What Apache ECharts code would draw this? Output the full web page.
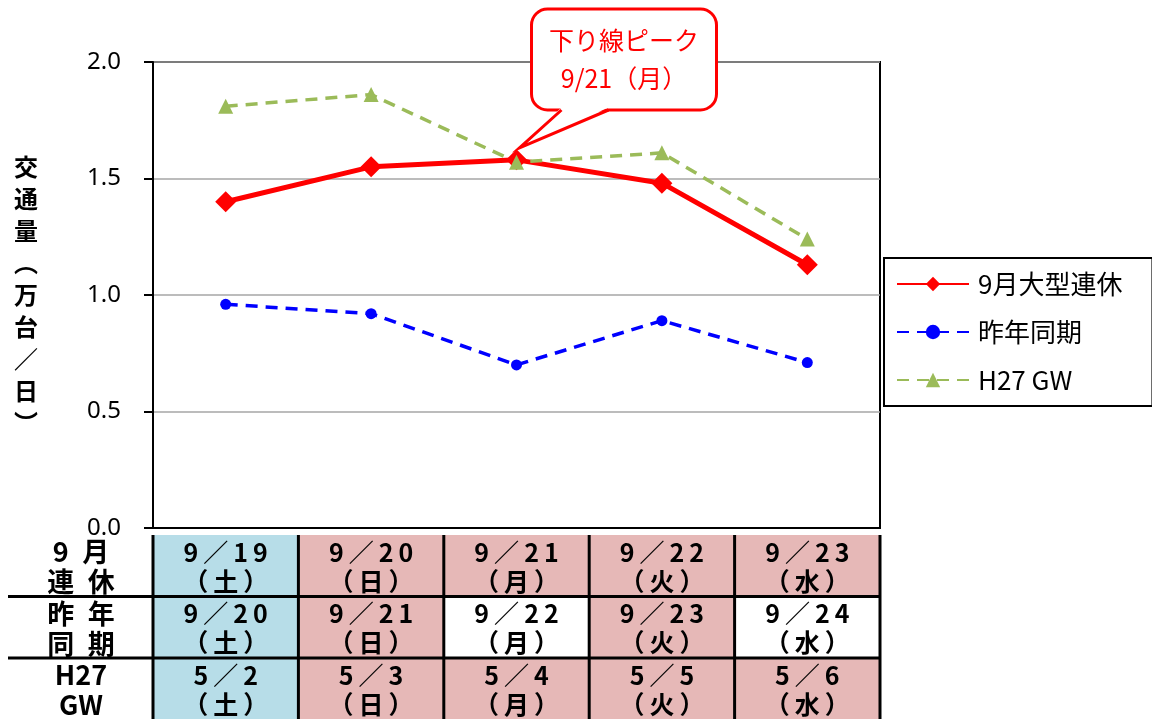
<!DOCTYPE html>
<html>
<head>
<meta charset="utf-8">
<script src="https://cdn.jsdelivr.net/npm/echarts@6/dist/echarts.min.js"></script>
<style>
  html, body { margin: 0; padding: 0; background: #fff; }
  #chart { width: 1152px; height: 719px; }
</style>
</head>
<body>
<div id="chart"></div>
<script>
  // 日付（グラフのカテゴリ）
  const categories = ['9/19', '9/20', '9/21', '9/22', '9/23']
  const seriesNames = ['9月大型連休', '昨年同期', 'H27 GW']

  // 交通量（万台／日）
  const renkyuValues = [1.40, 1.55, 1.58, 1.48, 1.13]
  const zennenValues = [0.96, 0.92, 0.70, 0.89, 0.71]
  const gwValues = [1.81, 1.86, 1.57, 1.61, 1.24]

  const yTicks = [0, 0.5, 1.0, 1.5, 2.0]
  const yAxisTitle = '交通量（万台／日）'
  const calloutText = '下り線ピーク\n9/21（月）'
  const peakIndex = 2

  // 下の表
  const rowLabels = [['9', '月'], ['連', '休'], ['昨', '年'], ['同', '期'], ['H27'], ['GW']]
  const rowDates = [
    ['9／19', '9／20', '9／21', '9／22', '9／23'],
    ['9／20', '9／21', '9／22', '9／23', '9／24'],
    ['5／2', '5／3', '5／4', '5／5', '5／6']
  ]
  const rowWeekdays = [
    ['土', '日', '月', '火', '水'],
    ['土', '日', '月', '火', '水'],
    ['土', '日', '月', '火', '水']
  ]
  // sat = 土曜, hol = 休日, wd = 平日
  const rowDayTypes = [
    ['sat', 'hol', 'hol', 'hol', 'hol'],
    ['sat', 'hol', 'wd', 'hol', 'wd'],
    ['sat', 'hol', 'hol', 'hol', 'hol']
  ]

  const dayColor = { sat: '#b7dde8', hol: '#e6b8b7', wd: '#ffffff' }
  const jpFont = '"Noto Sans CJK JP", sans-serif'

  const chart = echarts.init(document.getElementById('chart'))

  // 縦書き用の文字置換
  const vertical = yAxisTitle.split('').map(function (c) {
    if (c === '（') return '︵'
    if (c === '）') return '︶'
    return c
  }).join('\n')

  // 等幅っぽく字間をあける
  function spaced(s) {
    return s.split('').join('\u2009')
  }

  chart.setOption({
    animation: false,
    backgroundColor: '#fff',
    grid: {
      left: 153,
      right: 272,
      top: 62,
      bottom: 191,
      show: true,
      borderColor: '#000',
      borderWidth: 2
    },
    legend: {
      orient: 'vertical',
      left: 884,
      top: 258,
      padding: [13, 30, 13, 12],
      itemWidth: 72,
      itemHeight: 18,
      itemGap: 22,
      borderColor: '#000',
      borderWidth: 2,
      textStyle: { fontSize: 26, color: '#000', fontFamily: jpFont, padding: [0, 0, 0, 4] },
      data: seriesNames
    },
    xAxis: {
      type: 'category',
      data: categories,
      boundaryGap: true,
      axisLine: { lineStyle: { color: '#000', width: 2 } },
      axisTick: { inside: true, length: 8, lineStyle: { color: '#000', width: 2 } },
      axisLabel: { show: false },
      splitLine: { show: false }
    },
    yAxis: {
      type: 'value',
      min: yTicks[0],
      max: yTicks[yTicks.length - 1],
      interval: 0.5,
      name: vertical,
      nameLocation: 'middle',
      nameRotate: 0,
      nameGap: 115,
      nameTextStyle: { fontSize: 24, fontWeight: 'bold', color: '#000', lineHeight: 32, fontFamily: jpFont },
      axisLine: { show: true, lineStyle: { color: '#000', width: 2 } },
      axisTick: { show: true, length: 9, lineStyle: { color: '#000', width: 2 } },
      axisLabel: {
        margin: 32,
        fontSize: 24,
        color: '#000',
        fontFamily: '"Noto Sans", sans-serif',
        formatter: function (v) { return v.toFixed(1) }
      },
      splitLine: { lineStyle: { color: '#a6a6a6', width: 1.5 } }
    },
    series: [
      {
        name: seriesNames[0],
        type: 'line',
        data: renkyuValues,
        symbol: 'diamond',
        symbolSize: 21,
        itemStyle: { color: '#ff0000' },
        lineStyle: { color: '#ff0000', width: 5 }
      },
      {
        name: seriesNames[1],
        type: 'line',
        data: zennenValues,
        symbol: 'circle',
        symbolSize: 11,
        itemStyle: { color: '#0000ff' },
        lineStyle: { color: '#0000ff', width: 3.5, type: [12, 8] }
      },
      {
        name: seriesNames[2],
        type: 'line',
        data: gwValues,
        symbol: 'triangle',
        symbolSize: 15,
        itemStyle: { color: '#9bbb59' },
        lineStyle: { color: '#9bbb59', width: 3.5, type: [12, 8] }
      }
    ]
  })

  // 表と吹き出しを軸の位置から描く
  const elements = []
  const c0 = chart.convertToPixel({ xAxisIndex: 0 }, 0)
  const c1 = chart.convertToPixel({ xAxisIndex: 0 }, 1)
  const half = (c1 - c0) / 2
  const tableTop = 535
  const rowH = 61.5
  const tableRight = c0 - half + categories.length * half * 2

  rowDates.forEach(function (row, r) {
    const y = tableTop + r * rowH
    row.forEach(function (d, i) {
      const cx = chart.convertToPixel({ xAxisIndex: 0 }, i)
      elements.push({
        type: 'rect',
        shape: { x: cx - half, y: y, width: half * 2, height: rowH },
        style: { fill: dayColor[rowDayTypes[r][i]] },
        z: 1
      })
      elements.push({
        type: 'text',
        x: cx,
        y: y + rowH / 2 + 1,
        style: {
          text: spaced(d) + '\n（\u2009' + rowWeekdays[r][i] + '\u2009）',
          fontSize: 25,
          fontWeight: 'bold',
          lineHeight: 29,
          fill: '#000',
          fontFamily: jpFont,
          align: 'center',
          verticalAlign: 'middle'
        },
        z: 3
      })
    })
    elements.push({
      type: 'text',
      x: 81,
      y: y + rowH / 2 + 1,
      style: {
        text: rowLabels[r * 2].join('\u2002') + '\n' + rowLabels[r * 2 + 1].join('\u2002'),
        fontSize: 27,
        fontWeight: 'bold',
        lineHeight: 30,
        fill: '#000',
        fontFamily: jpFont,
        align: 'center',
        verticalAlign: 'middle'
      },
      z: 3
    })
    if (r > 0) {
      elements.push({
        type: 'line',
        shape: { x1: 8, y1: y, x2: tableRight, y2: y },
        style: { stroke: '#000', lineWidth: 3 },
        z: 2
      })
    }
  })
  for (let i = 0; i <= categories.length; i++) {
    const bx = c0 - half + i * half * 2
    elements.push({
      type: 'line',
      shape: { x1: bx, y1: tableTop, x2: bx, y2: 719 },
      style: { stroke: '#000', lineWidth: 3 },
      z: 2
    })
  }

  // 吹き出し
  const peak = chart.convertToPixel({ xAxisIndex: 0, yAxisIndex: 0 }, [peakIndex, renkyuValues[peakIndex]])
  const tipX = peak[0] + 3
  const tipY = peak[1] - 12
  const bx0 = tipX + 12
  const by0 = 9
  const bw = 185
  const bh = 101
  const tl = bx0 + 30
  const tr = bx0 + 77
  elements.push({
    type: 'rect',
    shape: { x: bx0, y: by0, width: bw, height: bh, r: 16 },
    style: { fill: '#fff', stroke: '#ff0000', lineWidth: 3 },
    z: 10
  })
  elements.push({
    type: 'polygon',
    shape: { points: [[tl, by0 + bh - 2.5], [tipX, tipY], [tr, by0 + bh - 2.5]] },
    style: { fill: '#fff' },
    z: 11
  })
  elements.push({
    type: 'polyline',
    shape: { points: [[tl, by0 + bh], [tipX, tipY], [tr, by0 + bh]] },
    style: { stroke: '#ff0000', lineWidth: 3, fill: null, lineJoin: 'miter' },
    z: 12
  })
  elements.push({
    type: 'text',
    x: bx0 + bw / 2,
    y: by0 + bh / 2,
    style: {
      text: calloutText,
      fontSize: 25,
      lineHeight: 38,
      fill: '#ff0000',
      fontFamily: jpFont,
      align: 'center',
      verticalAlign: 'middle'
    },
    z: 13
  })

  chart.setOption({ graphic: { elements: elements } })
</script>
</body>
</html>
